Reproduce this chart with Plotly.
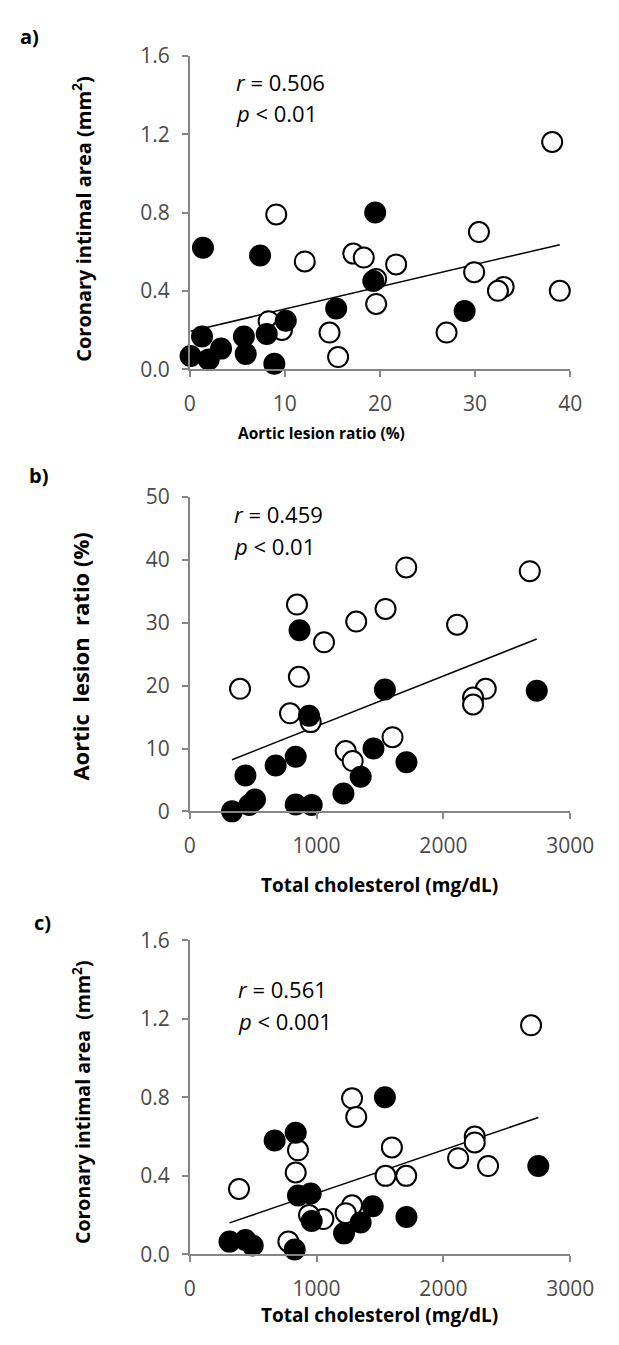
import numpy as np
import plotly.graph_objects as go

# ---- data -------------------------------------------------------------
# a) aortic lesion ratio (%) vs coronary intimal area (mm2)
a_open_x = [38.1, 9.1, 30.4, 12.1, 17.2, 18.3, 21.7, 19.6, 29.9, 33.0, 32.4, 38.9, 19.6, 8.3, 9.7, 14.7, 27.0, 15.6]
a_open_y = [1.16, 0.79, 0.70, 0.55, 0.59, 0.57, 0.535, 0.46, 0.495, 0.42, 0.40, 0.40, 0.333, 0.245, 0.20, 0.187, 0.187, 0.062]
a_fill_x = [1.4, 7.4, 19.5, 19.3, 15.4, 28.9, 10.1, 8.1, 5.7, 1.3, 3.3, 5.9, 0.1, 2.0, 8.9]
a_fill_y = [0.62, 0.58, 0.80, 0.45, 0.31, 0.297, 0.247, 0.18, 0.167, 0.167, 0.105, 0.078, 0.067, 0.05, 0.028]

# b) total cholesterol (mg/dL) vs aortic lesion ratio (%)
b_open_x = [1707, 2681, 846, 1544, 1313, 2108, 1059, 861, 397, 2334, 2234, 2234, 791, 954, 1599, 1230, 1285]
b_open_y = [38.8, 38.2, 32.9, 32.2, 30.2, 29.7, 26.9, 21.4, 19.5, 19.5, 18.1, 17.0, 15.6, 14.2, 11.8, 9.6, 8.0]
b_fill_x = [866, 1539, 2736, 941, 1449, 836, 678, 1709, 440, 1348, 1212, 515, 470, 836, 962, 334]
b_fill_y = [28.8, 19.4, 19.2, 15.2, 10.0, 8.7, 7.3, 7.8, 5.7, 5.5, 2.85, 1.9, 1.0, 1.1, 1.0, 0.0]

# c) total cholesterol (mg/dL) vs coronary intimal area (mm2)
c_open_x = [2691, 1280, 1313, 1594, 854, 2247, 2247, 2116, 2352, 836, 1544, 1707, 389, 1280, 1230, 1054, 941, 778]
c_open_y = [1.167, 0.795, 0.70, 0.545, 0.53, 0.60, 0.57, 0.49, 0.45, 0.417, 0.40, 0.40, 0.333, 0.25, 0.21, 0.18, 0.20, 0.065]
c_fill_x = [1539, 670, 836, 2748, 854, 954, 1443, 962, 1348, 1709, 1217, 314, 440, 497, 828]
c_fill_y = [0.80, 0.58, 0.62, 0.45, 0.30, 0.31, 0.245, 0.17, 0.162, 0.19, 0.107, 0.065, 0.073, 0.045, 0.025]

panel_labels = ["a)", "b)", "c)"]
stats = [("0.506", "0.01"), ("0.459", "0.01"), ("0.561", "0.001")]
x_titles = ["Aortic lesion ratio (%)", "Total cholesterol (mg/dL)", "Total cholesterol (mg/dL)"]
y_titles = ["Coronary intimal area (mm<sup>2</sup>)",
            "Aortic\u00a0 lesion\u00a0 ratio (%)",
            "Coronary intimal area\u00a0 (mm<sup>2</sup>)"]
x_ticks = [[0, 10, 20, 30, 40], [0, 1000, 2000, 3000], [0, 1000, 2000, 3000]]
y_ticks = [[0, 0.4, 0.8, 1.2, 1.6], [0, 10, 20, 30, 40, 50], [0, 0.4, 0.8, 1.2, 1.6]]
y_ticktext = [["0.0", "0.4", "0.8", "1.2", "1.6"], None, ["0.0", "0.4", "0.8", "1.2", "1.6"]]

panels = [
    (a_open_x, a_open_y, a_fill_x, a_fill_y),
    (b_open_x, b_open_y, b_fill_x, b_fill_y),
    (c_open_x, c_open_y, c_fill_x, c_fill_y),
]

# ---- layout geometry (pixels) -----------------------------------------
W, H = 619, 1345
plot_left, plot_right = 193, 593
plot_tops = [41.7, 492.3, 945.0]
plot_bottoms = [361.7, 813.3, 1265.7]
letter_pos = [(13, 22), (22, 470), (27, 927)]
xtitle_pos = [(332, 427), (393, 888), (393, 1328)]
xtitle_size = [15.5, 19, 19]
ytitle_pos = [(80, 208), (78, 655), (80, 1110)]
ytitle_size = [20, 22, 19.5]
stat_pos = [(240, 68, 100), (238, 510, 542), (242, 995, 1027)]


def px(x):
    return x / W


def py(y):
    return 1 - y / H


FONT = "Open Sans"
AXIS_GREY = "#868686"
TICK_COLOR = "#4a4a4a"

fig = go.Figure()
annotations = []

for i, (ox, oy, fx, fy) in enumerate(panels):
    n = i + 1
    xa = "x" if n == 1 else f"x{n}"
    ya = "y" if n == 1 else f"y{n}"

    # least-squares trend line over all animals
    all_x = np.array(ox + fx, dtype=float)
    all_y = np.array(oy + fy, dtype=float)
    slope, intercept = np.polyfit(all_x, all_y, 1)
    lx = np.array([all_x.min(), all_x.max()])
    fig.add_trace(go.Scatter(x=lx, y=slope * lx + intercept, mode="lines",
                             line=dict(color="black", width=1.5),
                             xaxis=xa, yaxis=ya, showlegend=False, hoverinfo="skip"))

    fig.add_trace(go.Scatter(x=ox, y=oy, mode="markers", cliponaxis=False,
                             marker=dict(size=20, color="white",
                                         line=dict(color="black", width=2)),
                             xaxis=xa, yaxis=ya, showlegend=False))
    fig.add_trace(go.Scatter(x=fx, y=fy, mode="markers", cliponaxis=False,
                             marker=dict(size=20, color="black",
                                         line=dict(color="black", width=2)),
                             xaxis=xa, yaxis=ya, showlegend=False))

    top, bottom = plot_tops[i], plot_bottoms[i]
    ax_common = dict(showline=True, linecolor=AXIS_GREY, linewidth=1.5,
                     ticks="outside", tickcolor=AXIS_GREY, ticklen=6, tickwidth=1.5,
                     showgrid=False, zeroline=False,
                     tickfont=dict(family=FONT, size=21, color=TICK_COLOR))
    xr = [0, 40] if i == 0 else [0, 3000]
    yr = [0, 50] if i == 1 else [0, 1.6]
    fig.layout[f"xaxis{'' if n == 1 else n}"] = dict(
        ax_common, domain=[px(plot_left), px(plot_right)], range=xr,
        tickvals=x_ticks[i], anchor=ya, ticklabelstandoff=9)
    ydict = dict(ax_common, domain=[py(bottom), py(top)], range=yr,
                 tickvals=y_ticks[i], anchor=xa, ticklabelstandoff=8)
    if y_ticktext[i]:
        ydict["ticktext"] = y_ticktext[i]
    fig.layout[f"yaxis{'' if n == 1 else n}"] = ydict

    # panel letter
    lx0, ly0 = letter_pos[i]
    annotations.append(dict(text=f"<b>{panel_labels[i]}</b>", x=px(lx0), y=py(ly0),
                            xref="paper", yref="paper", xanchor="left", yanchor="middle",
                            showarrow=False, font=dict(family=FONT, size=20, color="black")))
    # axis titles
    tx, ty = xtitle_pos[i]
    annotations.append(dict(text=f"<b>{x_titles[i]}</b>", x=px(tx), y=py(ty),
                            xref="paper", yref="paper", xanchor="center", yanchor="middle",
                            showarrow=False,
                            font=dict(family=FONT, size=xtitle_size[i], color="black")))
    tx, ty = ytitle_pos[i]
    annotations.append(dict(text=f"<b>{y_titles[i]}</b>", x=px(tx), y=py(ty),
                            xref="paper", yref="paper", xanchor="center", yanchor="middle",
                            textangle=-90, showarrow=False,
                            font=dict(family=FONT, size=ytitle_size[i], color="black")))
    # correlation statistics
    r_txt, p_txt = stats[i]
    sx, ry, pyy = stat_pos[i]
    annotations.append(dict(text=f"<i>r</i> = {r_txt}", x=px(sx), y=py(ry),
                            xref="paper", yref="paper", xanchor="left", yanchor="middle",
                            showarrow=False, font=dict(family=FONT, size=22, color="black")))
    annotations.append(dict(text=f"<i>p</i> < {p_txt}", x=px(sx), y=py(pyy),
                            xref="paper", yref="paper", xanchor="left", yanchor="middle",
                            showarrow=False, font=dict(family=FONT, size=22, color="black")))

fig.update_layout(width=W, height=H, margin=dict(l=0, r=0, t=0, b=0),
                  paper_bgcolor="white", plot_bgcolor="white",
                  annotations=annotations)

# keep the page flush with the figure so nothing scrolls or shifts
fig.write_html("out.html",
               post_script="document.body.style.margin='0';"
                           "document.body.style.overflow='hidden';")
